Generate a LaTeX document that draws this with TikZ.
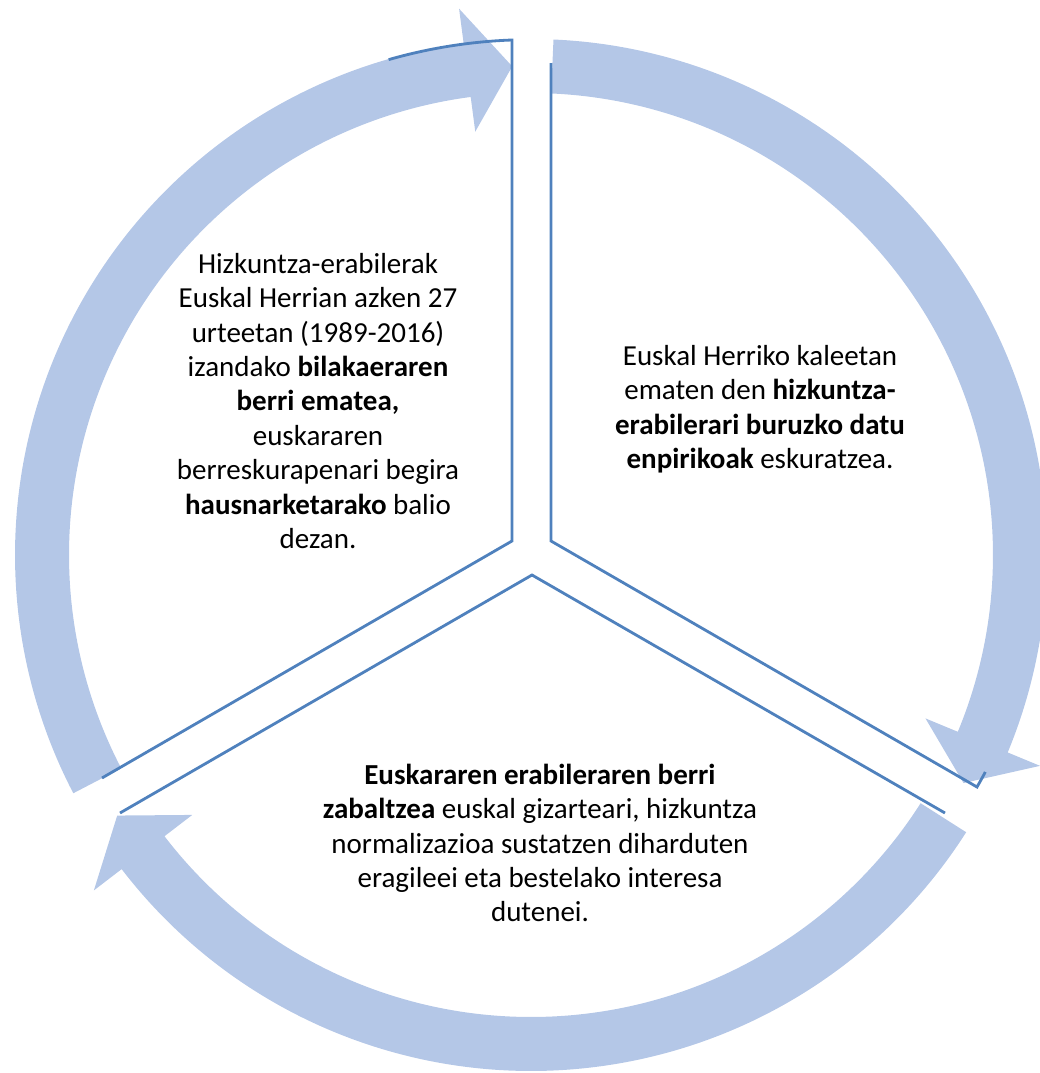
\documentclass[tikz,border=0pt]{standalone}
\usepackage{fontspec}
\setmainfont{Carlito}
\definecolor{ringblue}{RGB}{180,199,231}
\definecolor{edgeblue}{RGB}{79,129,189}
\tikzset{
  ringarrow/.style={fill=ringblue},
  segline/.style={draw=edgeblue, line width=1.6pt},
  goaltext/.style={align=center, font=\fontsize{16.5}{19.6}\selectfont}
}
\begin{document}
\begin{tikzpicture}[x=0.02cm, y=0.02cm]
% Ring radii (one unit is one pixel of the page)
\def\rin{462}
\def\rout{516}
\def\rmid{489}
\def\hin{427}
\def\hout{551}

\clip (-531,-518) rectangle (509,555);

% Draw the three curved arrows
\foreach \t in {207.5, 87.5, -32.5} {
  \fill[ringarrow] (\t:\rout) arc[start angle=\t, end angle=\t-110, radius=\rout]
    -- (\t-110:\hout) -- (\t-115.3:\rmid) -- (\t-110:\hin)
    -- (\t-110:\rin) arc[start angle=\t-110, end angle=\t, radius=\rin] -- cycle;
}

% Edges of the three segments
\draw[segline] (-429,-223) -- (-19,14) -- (-19,515) arc[start angle=92.1, end angle=106, radius=516];
\draw[segline] (20,492) -- (20,14) -- (446,-232) arc[start angle=-30, end angle=-28, radius=492];
\draw[segline] (-411,-258) -- (1,-20) -- (414,-258);

% Texts of the segments
\node[goaltext] (goalleft) at (-213,154) {Hizkuntza-erabilerak\\Euskal Herrian azken 27\\urteetan (1989-2016)\\izandako \textbf{bilakaeraren}\\\textbf{berri ematea,}\\euskararen\\berreskurapenari begira\\\textbf{hausnarketarako} balio\\dezan.};
\node[goaltext] (goalright) at (229,146) {Euskal Herriko kaleetan\\ematen den \textbf{hizkuntza-}\\\textbf{erabilerari buruzko datu}\\\textbf{enpirikoak} eskuratzea.};
\node[goaltext] (goalbottom) at (9,-288) {\textbf{Euskararen erabileraren berri}\\\textbf{zabaltzea} euskal gizarteari, hizkuntza\\normalizazioa sustatzen diharduten\\eragileei eta bestelako interesa\\dutenei.};
\end{tikzpicture}
\end{document}
